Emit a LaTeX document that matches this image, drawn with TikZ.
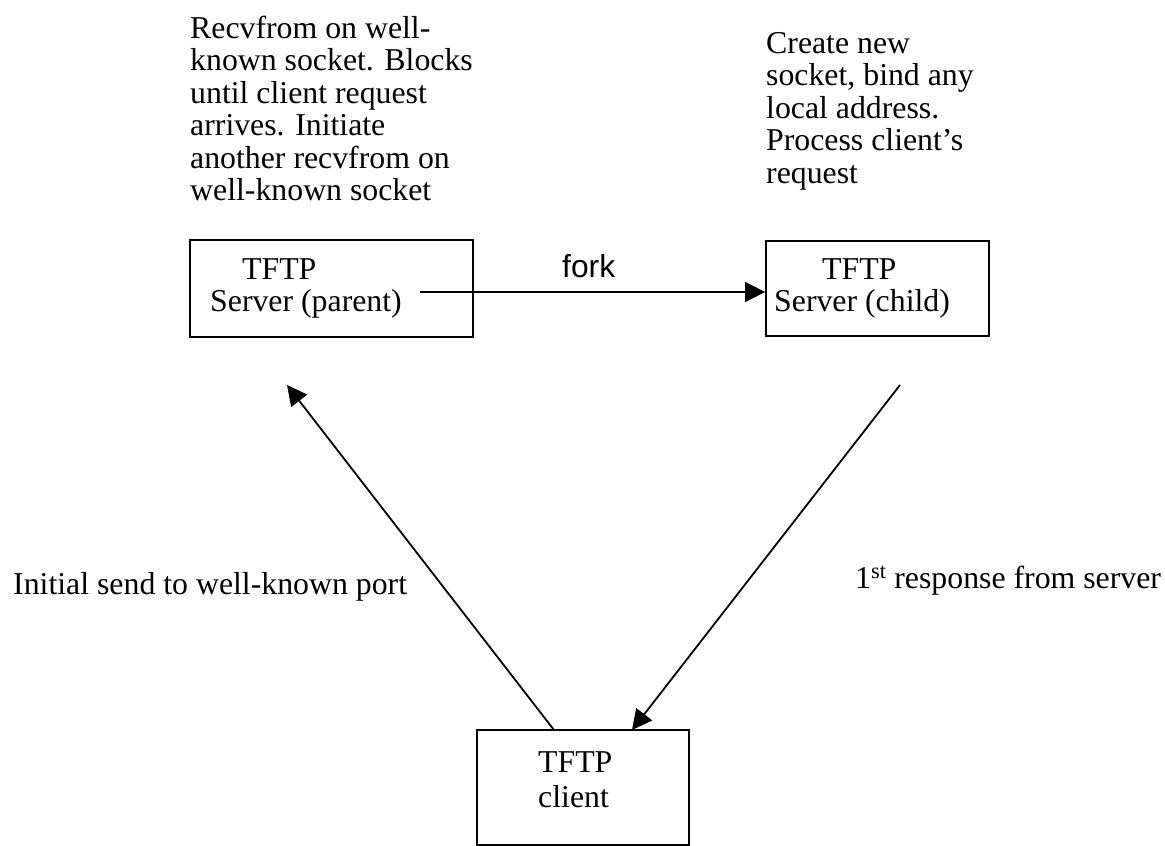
\documentclass[tikz,border=0pt]{standalone}
\usepackage{fontspec}
\setmainfont{Liberation Serif}
\newfontfamily\arialfont{Liberation Sans}
\usetikzlibrary{arrows.meta}
\newcommand{\mylines}[1]{\vtop{\baselineskip=32.5pt\lineskiplimit=-100pt\lineskip=0pt #1}}
\tikzset{
  box/.style={draw, line width=1.8pt, inner sep=0pt, minimum width=#1},
  txt/.style={anchor=base west, inner sep=0pt, font=\fontsize{31.8}{32.5}\selectfont},
  forktxt/.style={anchor=base west, inner sep=0pt, font=\arialfont\fontsize{31.8}{32.5}\selectfont},
  conn/.style={line width=1.8pt, -{Triangle[length=20pt,width=20pt]}}
}
\begin{document}
\begin{tikzpicture}[x=1pt,y=-1pt]
\useasboundingbox (0,0) rectangle (1165,846);
% boxes
\node[box=283pt, minimum height=97pt] (parent) at (331.5,288.5) {};
\node[box=223pt, minimum height=95pt] (child) at (877.5,288.5) {};
\node[box=212pt, minimum height=115pt] (client) at (583,787.5) {};
% box texts
\node[txt] (ptftp) at (242,279) {TFTP};
\node[txt] (pserver) at (210,311) {Server (parent)};
\node[txt] (ctftp) at (822,279) {TFTP};
\node[txt] (cserver) at (774,311) {Server (child)};
\node[txt] (cltftp) at (538,772) {TFTP};
\node[txt] (clclient) at (538,807) {client};
% descriptions
\node[txt] (pdesc) at (190,38) {\mylines{\hbox{Recvfrom on well-}\hbox{known socket. Blocks}\hbox{until client request}\hbox{arrives. Initiate}\hbox{another recvfrom on}\hbox{well-known socket}}};
\node[txt] (cdesc) at (766,53) {\mylines{\hbox{Create new}\hbox{socket, bind any}\hbox{local address.}\hbox{Process client’s}\hbox{request}}};
\node[txt] (linit) at (13,594) {Initial send to well-known port};
\node[txt] (lresp) at (855,588) {1\textsuperscript{st} response from server};
\node[forktxt] (lfork) at (562,277) {fork};
% connector ends
\coordinate (forkstart) at (420,292);
\coordinate (upend) at (287,385);
\coordinate (clup) at (554,730);
\coordinate (downstart) at (900,385);
\coordinate (cldown) at (632,730);
% connectors
\draw[conn] (forkstart) -- (child.west |- forkstart);
\draw[conn] (clup) -- (upend);
\draw[conn] (downstart) -- (cldown);
\end{tikzpicture}
\end{document}
